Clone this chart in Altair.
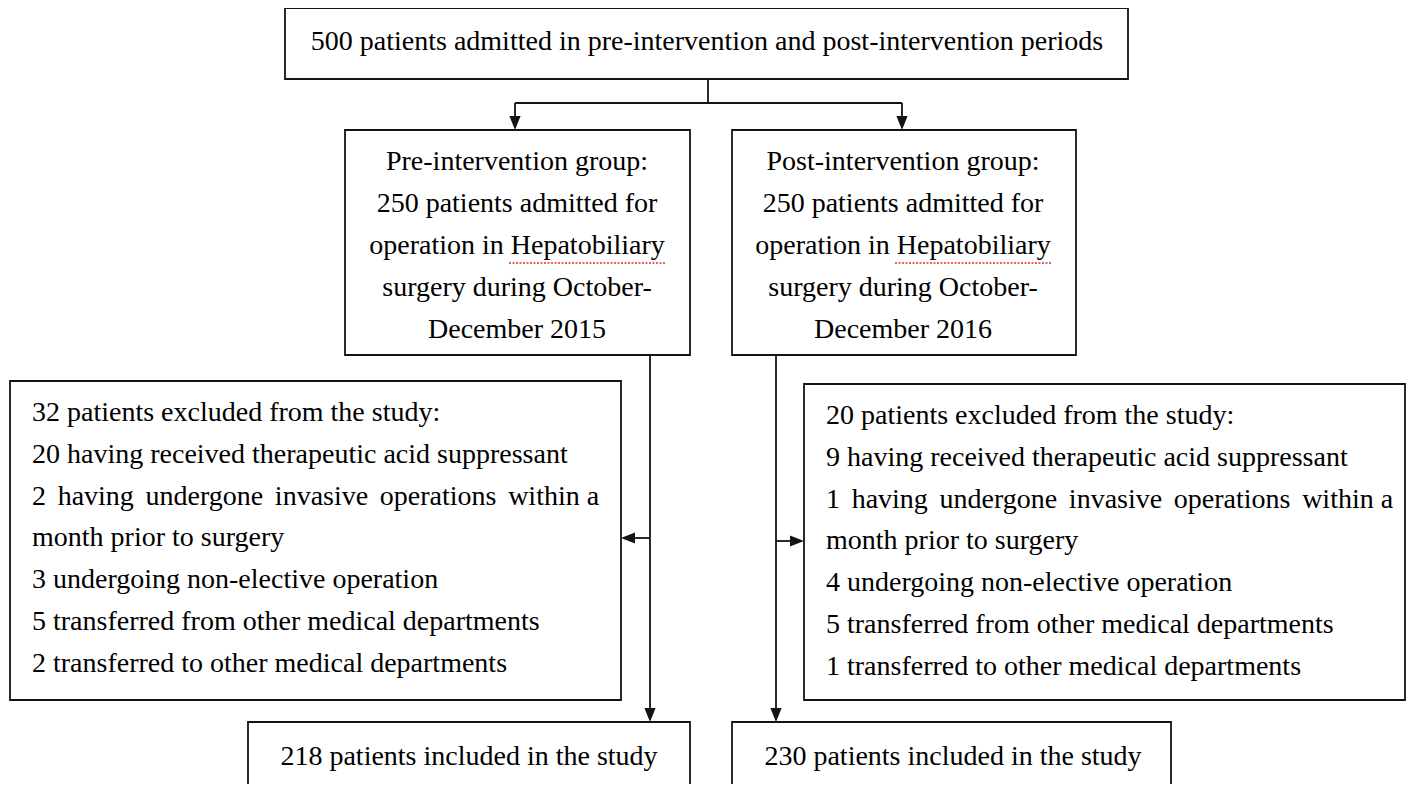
import altair as alt
import pandas as pd

# ---------------- text content ----------------
top_text = ["500 patients admitted in pre-intervention and post-intervention periods"]
pre_lines = ["Pre-intervention group:", "250 patients admitted for",
             "operation in Hepatobiliary", "surgery during October-", "December 2015"]
post_lines = ["Post-intervention group:", "250 patients admitted for",
              "operation in Hepatobiliary", "surgery during October-", "December 2016"]
excl_left = ["32 patients excluded from the study:",
             "20 having received therapeutic acid suppressant",
             "2 having undergone invasive operations within a",
             "month prior to surgery",
             "3 undergoing non-elective operation",
             "5 transferred from other medical departments",
             "2 transferred to other medical departments"]
excl_right = ["20 patients excluded from the study:",
              "9 having received therapeutic acid suppressant",
              "1 having undergone invasive operations within a",
              "month prior to surgery",
              "4 undergoing non-elective operation",
              "5 transferred from other medical departments",
              "1 transferred to other medical departments"]
included = ["218 patients included in the study", "230 patients included in the study"]

# ---------------- layout (pixel space) ----------------
boxes = pd.DataFrame([
    dict(x=285, x2=1128, y=8, y2=79),      # top
    dict(x=345, x2=690, y=130, y2=355),    # pre group
    dict(x=732, x2=1076, y=130, y2=355),   # post group
    dict(x=10, x2=621, y=381, y2=700),     # excl left
    dict(x=804, x2=1405, y=384, y2=700),   # excl right
    dict(x=248, x2=690, y=722, y2=800),    # included left
    dict(x=732, x2=1171, y=722, y2=800),   # included right
])

rules = pd.DataFrame([
    dict(x=708, x2=708, y=79, y2=103),
    dict(x=515, x2=902, y=103, y2=103),
    dict(x=515, x2=515, y=103, y2=124),
    dict(x=902, x2=902, y=103, y2=124),
    dict(x=650, x2=650, y=355, y2=716),
    dict(x=776, x2=776, y=355, y2=716),
    dict(x=627, x2=650, y=538, y2=538),
    dict(x=776, x2=798, y=541, y2=541),
])

arrows_down = pd.DataFrame([dict(x=515, y=130), dict(x=902, y=130),
                            dict(x=650, y=722), dict(x=776, y=722)])
arrows_left = pd.DataFrame([dict(x=621, y=538)])
arrows_right = pd.DataFrame([dict(x=804, y=541)])

squiggle = pd.DataFrame([dict(x=509, x2=666, y=263, y2=263),
                         dict(x=895, x2=1052, y=263, y2=263)])

def justify(s, n=5):
    # widen the first n inter-word gaps slightly (justified line in the original)
    parts = s.split(" ")
    out = parts[0]
    for i, p in enumerate(parts[1:]):
        out += (" \u2006" if i < n else " ") + p
    return out

center_rows, left_rows = [], []
center_rows.append(dict(t=top_text[0], x=707, y=42))
for i, s in enumerate(pre_lines):
    center_rows.append(dict(t=s, x=517, y=162 + 42 * i))
for i, s in enumerate(post_lines):
    center_rows.append(dict(t=s, x=903, y=162 + 42 * i))
for i, s in enumerate(excl_left):
    left_rows.append(dict(t=justify(s) if i == 2 else s, x=32, y=413 + 41.8 * i))
for i, s in enumerate(excl_right):
    left_rows.append(dict(t=justify(s) if i == 2 else s, x=826, y=416 + 41.8 * i))
center_rows.append(dict(t=included[0], x=469, y=757))
center_rows.append(dict(t=included[1], x=953, y=757))
ctexts = pd.DataFrame(center_rows)
ltexts = pd.DataFrame(left_rows)

# ---------------- scales ----------------
XS = alt.Scale(domain=[8, 1406], nice=False, zero=False)
YS = alt.Scale(domain=[8, 784], nice=False, zero=False, reverse=True)
X = lambda f="x": alt.X(f"{f}:Q", scale=XS, axis=None)
Y = lambda f="y": alt.Y(f"{f}:Q", scale=YS, axis=None)

INK = "#141414"

rect_layer = alt.Chart(boxes).mark_rect(fill="white", stroke=INK, strokeWidth=1.8).encode(
    x=X(), x2="x2:Q", y=Y(), y2="y2:Q")

rule_layer = alt.Chart(rules).mark_rule(color=INK, strokeWidth=1.8).encode(
    x=X(), x2="x2:Q", y=Y(), y2="y2:Q")

sq_layer = alt.Chart(squiggle).mark_rule(color="#e03030", strokeWidth=1.3, strokeDash=[2, 1.5]).encode(
    x=X(), x2="x2:Q", y=Y(), y2="y2:Q")

down_layer = alt.Chart(arrows_down).mark_point(
    shape="M-0.8,-2L0.8,-2L0,0Z", filled=True, fill=INK, size=196, opacity=1).encode(
    x=X(), y=Y())
left_layer = alt.Chart(arrows_left).mark_point(
    shape="M2,-0.8L2,0.8L0,0Z", filled=True, fill=INK, size=196, opacity=1).encode(
    x=X(), y=Y())
right_layer = alt.Chart(arrows_right).mark_point(
    shape="M-2,-0.8L-2,0.8L0,0Z", filled=True, fill=INK, size=196, opacity=1).encode(
    x=X(), y=Y())

ctext_layer = alt.Chart(ctexts).mark_text(
    font="Liberation Serif", fontSize=28, color="#000", baseline="middle", align="center").encode(
    x=X(), y=Y(), text="t:N")
ltext_layer = alt.Chart(ltexts).mark_text(
    font="Liberation Serif", fontSize=28, color="#000", baseline="middle", align="left").encode(
    x=X(), y=Y(), text="t:N")

chart = alt.layer(rect_layer, rule_layer, sq_layer, down_layer, left_layer, right_layer,
                  ctext_layer, ltext_layer).properties(
    width=1398, height=776, padding=0, background="white"
).configure_view(stroke=None, clip=True)

chart.save("out.html", embed_options={"renderer": "svg", "actions": False})
